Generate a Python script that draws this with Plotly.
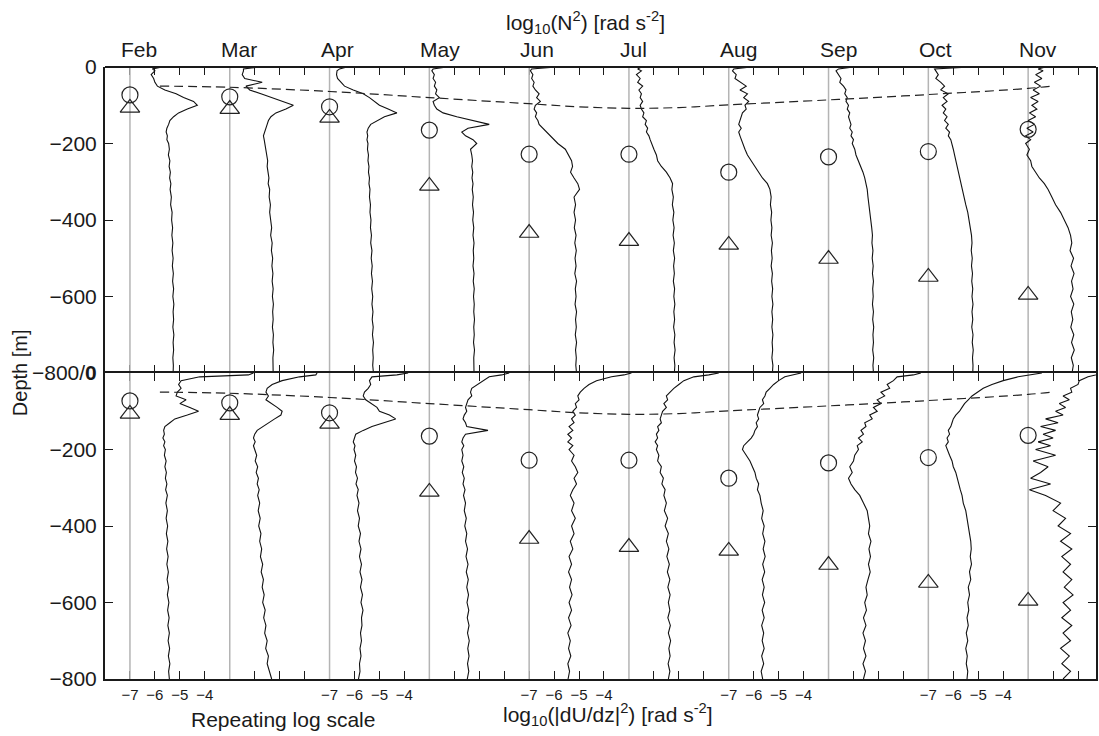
import plotly.graph_objects as go
from plotly.subplots import make_subplots

# ---------------- data ----------------
MONTHS = ["Feb", "Mar", "Apr", "May", "Jun", "Jul", "Aug", "Sep", "Oct", "Nov"]
LABELLED_MONTHS = ["Feb", "Apr", "Jun", "Aug", "Oct"]
LOG_TICKS = [-7, -6, -5, -4]
DECADES_PER_MONTH = 4          # width of one month's slot on the repeating log axis
REF_LOG = -7                   # log value drawn on each grey month line

DEPTH = [0, 5, 10,
         20, 30, 40, 50, 60, 70, 80, 90, 100, 110, 120, 130, 140, 150, 160, 170, 180, 190, 200,
         215, 230, 245, 260, 275, 290, 305, 320,
         340, 360, 380, 400, 420, 440, 460, 480, 500, 520, 540, 560, 580, 600, 620, 640, 660,
         680, 700, 720, 740, 760, 780, 800]

# log10(N^2) profiles
N2_FEB = [-5.70, -6.10, -6.00,
          -6.15, -6.05, -6.00, -5.90, -5.60, -5.15, -4.85, -4.45, -4.30, -4.70, -5.05, -5.25, -5.40, -5.45, -5.52, -5.55, -5.50, -5.52, -5.45,
          -5.42, -5.46, -5.40, -5.43, -5.38, -5.41, -5.36, -5.39,
          -5.34, -5.37, -5.31, -5.33, -5.29, -5.32, -5.28, -5.31, -5.27, -5.30, -5.26, -5.29, -5.25, -5.28, -5.24, -5.27, -5.25, -5.28, -5.24, -5.27, -5.25, -5.28, -5.26, -5.27]
N2_MAR = [-5.80, -6.45, -6.45,
          -6.50, -6.40, -5.70, -6.35, -6.20, -5.75, -5.30, -4.90, -4.45, -4.75, -5.15, -5.35, -5.45, -5.50, -5.55, -5.60, -5.65, -5.62, -5.60,
          -5.55, -5.52, -5.48, -5.50, -5.45, -5.43, -5.46, -5.40,
          -5.42, -5.37, -5.40, -5.35, -5.32, -5.36, -5.30, -5.33, -5.28, -5.31, -5.27, -5.30, -5.26, -5.29, -5.25, -5.28, -5.26, -5.29, -5.25, -5.27, -5.24, -5.27, -5.25, -5.26]
N2_APR = [-6.30, -6.60, -6.70,
          -6.72, -6.68, -6.55, -6.40, -6.05, -5.65, -5.40, -5.20, -5.00, -4.65, -4.30, -4.80, -5.10, -5.35, -5.45, -5.50, -5.47, -5.50, -5.46,
          -5.48, -5.44, -5.46, -5.42, -5.44, -5.40, -5.42, -5.38,
          -5.40, -5.36, -5.38, -5.34, -5.36, -5.32, -5.35, -5.30, -5.33, -5.29, -5.32, -5.28, -5.31, -5.27, -5.30, -5.26, -5.29, -5.25, -5.28, -5.24, -5.27, -5.25, -5.27, -5.24]
N2_MAY = [-6.30, -6.85, -6.90,
          -6.80, -6.85, -6.75, -6.80, -6.70, -6.75, -6.60, -6.85, -6.80, -6.70, -6.45, -5.90, -5.20, -4.60, -5.45, -5.70, -5.55, -5.25, -5.10,
          -5.35, -5.30, -5.27, -5.30, -5.26, -5.29, -5.25, -5.28,
          -5.24, -5.27, -5.23, -5.26, -5.22, -5.25, -5.21, -5.24, -5.22, -5.25, -5.21, -5.24, -5.20, -5.23, -5.20, -5.22, -5.19, -5.22, -5.20, -5.23, -5.19, -5.22, -5.20, -5.21]
N2_JUN = [-5.90, -6.90, -6.95,
          -6.85, -6.90, -6.80, -6.85, -6.75, -6.60, -6.70, -6.55, -6.75, -6.80, -6.70, -6.75, -6.65, -6.60, -6.45, -6.30, -6.15, -6.00, -5.85,
          -5.55, -5.42, -5.30, -5.26, -5.34, -5.20, -5.05, -4.98,
          -5.20, -5.14, -5.20, -5.14, -5.19, -5.12, -5.17, -5.11, -5.16, -5.12, -5.17, -5.10, -5.15, -5.12, -5.16, -5.10, -5.14, -5.11, -5.15, -5.10, -5.14, -5.11, -5.13, -5.10]
N2_JUL = [-6.50, -6.65, -6.50,
          -6.70, -6.55, -6.65, -6.45, -6.60, -6.50, -6.55, -6.45, -6.55, -6.50, -6.40, -6.45, -6.30, -6.35, -6.25, -6.30, -6.20, -6.15, -6.10,
          -6.00, -5.90, -5.85, -5.70, -5.50, -5.35, -5.25, -5.28,
          -5.22, -5.26, -5.20, -5.24, -5.19, -5.23, -5.18, -5.22, -5.17, -5.21, -5.18, -5.22, -5.17, -5.20, -5.16, -5.20, -5.17, -5.21, -5.16, -5.19, -5.15, -5.19, -5.16, -5.18]
N2_AUG = [-6.10, -6.80, -6.85,
          -6.70, -6.75, -6.50, -6.30, -6.55, -6.25, -6.40, -6.20, -6.35, -6.30, -6.45, -6.50, -6.55, -6.60, -6.50, -6.60, -6.55, -6.50, -6.45,
          -6.35, -6.25, -6.10, -5.95, -5.80, -5.65, -5.45, -5.35,
          -5.30, -5.33, -5.28, -5.31, -5.27, -5.30, -5.25, -5.29, -5.26, -5.30, -5.25, -5.28, -5.24, -5.27, -5.23, -5.27, -5.24, -5.27, -5.23, -5.26, -5.24, -5.27, -5.23, -5.25]
N2_SEP = [-6.00, -6.60, -6.70,
          -6.60, -6.50, -6.55, -6.40, -6.30, -6.35, -6.25, -6.30, -6.20, -6.25, -6.15, -6.20, -6.15, -6.10, -6.15, -6.05, -6.10, -6.00, -6.05,
          -5.95, -5.90, -5.80, -5.70, -5.62, -5.55, -5.50, -5.45,
          -5.42, -5.38, -5.33, -5.30, -5.27, -5.24, -5.26, -5.22, -5.25, -5.21, -5.24, -5.20, -5.23, -5.21, -5.24, -5.20, -5.23, -5.19, -5.22, -5.20, -5.23, -5.19, -5.22, -5.20]
N2_OCT = [-5.30, -6.75, -6.70,
          -6.60, -6.70, -6.50, -6.35, -6.50, -6.20, -6.40, -6.25, -6.45, -6.30, -6.40, -6.25, -6.35, -6.20, -6.30, -6.15, -6.20, -6.10, -6.05,
          -6.00, -5.95, -5.90, -5.85, -5.80, -5.75, -5.70, -5.65,
          -5.58, -5.50, -5.42, -5.36, -5.32, -5.27, -5.25, -5.28, -5.24, -5.27, -5.23, -5.26, -5.22, -5.25, -5.21, -5.25, -5.22, -5.26, -5.21, -5.24, -5.20, -5.23, -5.21, -5.22]
N2_NOV = [-6.30, -6.60, -6.40,
          -6.70, -6.45, -6.75, -6.50, -6.80, -6.55, -6.90, -6.60, -6.85, -6.65, -6.95, -6.70, -7.00, -6.75, -7.05, -6.80, -7.10, -6.90, -7.10,
          -6.95, -7.05, -6.90, -6.85, -6.70, -6.55, -6.35, -6.20,
          -6.05, -5.90, -5.70, -5.55, -5.40, -5.30, -5.25, -5.32, -5.18, -5.28, -5.16, -5.26, -5.20, -5.30, -5.17, -5.27, -5.21, -5.29, -5.17, -5.26, -5.15, -5.27, -5.19, -5.24]

# log10(|dU/dz|^2) profiles
SH_FEB = [-2.05, -2.25, -4.20,
          -4.95, -5.05, -4.95, -5.10, -5.15, -4.75, -5.00, -4.60, -4.25, -4.70, -5.20, -5.40, -5.60, -5.65, -5.62, -5.68, -5.60, -5.65, -5.58,
          -5.62, -5.55, -5.60, -5.54, -5.58, -5.52, -5.57, -5.50,
          -5.56, -5.50, -5.55, -5.49, -5.54, -5.48, -5.53, -5.47, -5.52, -5.46, -5.51, -5.45, -5.50, -5.44, -5.49, -5.43, -5.48, -5.42, -5.47, -5.41, -5.46, -5.40, -5.45, -5.42]
SH_MAR = [-3.50, -3.55, -4.20,
          -4.90, -5.30, -5.50, -5.55, -5.45, -5.55, -5.30, -5.10, -4.90, -4.95, -5.20, -5.45, -5.70, -5.90, -6.00, -6.05, -5.98, -6.05, -6.00,
          -5.92, -5.98, -5.88, -5.94, -5.85, -5.90, -5.82, -5.88,
          -5.80, -5.86, -5.78, -5.84, -5.75, -5.80, -5.72, -5.77, -5.68, -5.74, -5.65, -5.70, -5.62, -5.68, -5.58, -5.64, -5.55, -5.60, -5.50, -5.56, -5.45, -5.50, -5.40, -5.32]
SH_APR = [-3.85, -4.30, -5.30,
          -5.40, -5.35, -5.45, -5.60, -5.65, -5.55, -5.30, -5.10, -5.00, -4.60, -4.35, -4.85, -5.30, -5.65, -5.95, -6.00, -6.05, -5.98, -6.02,
          -5.95, -6.00, -5.92, -5.96, -5.88, -5.94, -5.85, -5.90,
          -5.82, -5.88, -5.80, -5.85, -5.76, -5.82, -5.74, -5.80, -5.72, -5.78, -5.70, -5.76, -5.68, -5.74, -5.66, -5.72, -5.70, -5.76, -5.72, -5.78, -5.74, -5.80, -5.78, -5.84]
SH_MAY = [-3.80, -4.10, -4.60,
          -4.85, -5.10, -5.30, -5.35, -5.30, -5.45, -5.50, -5.55, -5.50, -5.60, -5.65, -5.55, -5.50, -4.65, -5.55, -5.65, -5.70, -5.62, -5.70,
          -5.65, -5.70, -5.62, -5.68, -5.60, -5.65, -5.57, -5.63,
          -5.55, -5.60, -5.52, -5.58, -5.50, -5.55, -5.47, -5.53, -5.45, -5.52, -5.44, -5.50, -5.43, -5.49, -5.42, -5.48, -5.41, -5.47, -5.40, -5.46, -5.41, -5.47, -5.42, -5.48]
SH_JUN = [-2.90, -3.20, -3.70,
          -4.30, -4.60, -4.80, -4.95, -5.05, -5.00, -5.15, -5.10, -5.25, -5.15, -5.30, -5.20, -5.40, -5.25, -5.45, -5.30, -5.45, -5.25, -5.40,
          -5.20, -5.30, -5.15, -5.05, -5.20, -5.10, -5.25, -5.35,
          -5.20, -5.30, -5.15, -5.30, -5.20, -5.35, -5.25, -5.40, -5.30, -5.42, -5.30, -5.38, -5.28, -5.40, -5.30, -5.42, -5.32, -5.45, -5.35, -5.42, -5.33, -5.45, -5.38, -5.44]
SH_JUL = [-3.40, -3.80, -4.40,
          -4.80, -5.00, -5.20, -5.35, -5.50, -5.45, -5.60, -5.50, -5.65, -5.70, -5.75, -5.70, -5.85, -5.80, -5.90, -5.85, -5.95, -5.85, -5.90,
          -5.80, -5.85, -5.70, -5.75, -5.62, -5.68, -5.55, -5.60,
          -5.50, -5.58, -5.45, -5.55, -5.42, -5.50, -5.40, -5.48, -5.38, -5.46, -5.36, -5.44, -5.35, -5.42, -5.36, -5.44, -5.34, -5.42, -5.33, -5.40, -5.35, -5.43, -5.36, -5.42]
SH_AUG = [-4.10, -4.40, -4.75,
          -5.00, -5.20, -5.35, -5.50, -5.55, -5.65, -5.60, -5.75, -5.80, -5.85, -5.80, -5.90, -5.85, -5.95, -6.00, -6.10, -6.25, -6.40, -6.45,
          -6.30, -6.15, -6.05, -5.95, -5.90, -5.80, -5.85, -5.75,
          -5.70, -5.62, -5.68, -5.58, -5.64, -5.55, -5.62, -5.54, -5.64, -5.56, -5.66, -5.58, -5.65, -5.56, -5.66, -5.58, -5.68, -5.60, -5.66, -5.58, -5.68, -5.60, -5.70, -5.64]
SH_SEP = [-3.30, -3.60, -4.25,
          -4.40, -4.65, -4.55, -4.90, -4.75, -5.05, -4.90, -5.20, -5.05, -5.35, -5.25, -5.55, -5.50, -5.70, -5.60, -5.80, -5.65, -5.85, -5.80,
          -5.95, -6.00, -6.15, -6.05, -6.20, -6.10, -5.95, -5.75,
          -5.60, -5.45, -5.40, -5.35, -5.40, -5.30, -5.38, -5.32, -5.40, -5.33, -5.42, -5.50, -5.45, -5.55, -5.48, -5.60, -5.50, -5.62, -5.52, -5.60, -5.50, -5.62, -5.52, -5.60]
SH_OCT = [-2.45, -2.90, -3.40,
          -4.00, -4.45, -4.80, -5.05, -5.25, -5.40, -5.55, -5.65, -5.75, -5.90, -6.00, -6.05, -6.10, -6.20, -6.15, -6.25, -6.20, -6.30, -6.25,
          -6.15, -6.05, -6.00, -5.90, -5.85, -5.78, -5.72, -5.65,
          -5.60, -5.50, -5.45, -5.40, -5.35, -5.30, -5.28, -5.32, -5.27, -5.35, -5.30, -5.40, -5.35, -5.42, -5.38, -5.45, -5.40, -5.48, -5.42, -5.50, -5.44, -5.48, -5.42, -5.45]
SH_NOV = [-4.10, -4.30, -4.60,
          -4.95, -5.00, -5.30, -5.25, -5.60, -5.35, -5.75, -5.50, -5.90, -5.60, -6.30, -5.80, -6.50, -5.90, -6.40, -6.00, -6.60, -6.10, -6.70,
          -5.90, -6.80, -6.20, -6.50, -6.90, -6.10, -6.95, -6.30,
          -5.70, -6.00, -5.50, -5.80, -5.30, -5.70, -5.25, -5.65, -5.30, -5.60, -5.25, -5.55, -5.20, -5.60, -5.30, -5.65, -5.25, -5.60, -5.30, -5.70, -5.35, -5.65, -5.30, -5.60]

N2_PROFILES = [N2_FEB, N2_MAR, N2_APR, N2_MAY, N2_JUN, N2_JUL, N2_AUG, N2_SEP, N2_OCT, N2_NOV]
SH_PROFILES = [SH_FEB, SH_MAR, SH_APR, SH_MAY, SH_JUN, SH_JUL, SH_AUG, SH_SEP, SH_OCT, SH_NOV]

# depths marked with circles and triangles on each month line
CIRCLE_DEPTH = [-73, -78, -104, -165, -228, -228, -275, -235, -221, -163]
TRIANGLE_DEPTH = [-107, -110, -133, -311, -434, -455, -465, -502, -549, -596]

# dashed curve: time (in months after Feb) and depth
MLD_TIME = [0.3, 1, 2, 3, 4, 4.5, 5, 5.5, 6, 7, 8, 9, 9.23]
MLD_DEPTH = [-50, -53, -64, -80, -96, -104, -108, -106, -99, -86, -72, -56, -50]

for p in N2_PROFILES + SH_PROFILES:
    assert len(p) == len(DEPTH), len(p)

# ---------------- figure ----------------
FONT = "Liberation Sans, Arial, Helvetica, sans-serif"
INK = "#1a1a1a"


def slot_x(i, v):
    return DECADES_PER_MONTH * i + v


month_x = [slot_x(i, REF_LOG) for i in range(len(MONTHS))]

fig = make_subplots(rows=2, cols=1, shared_xaxes=True, vertical_spacing=0)

for row, profiles in ((1, N2_PROFILES), (2, SH_PROFILES)):
    for i, xm in enumerate(month_x):
        fig.add_trace(go.Scatter(x=[xm, xm], y=[0, -800], mode="lines",
                                 line=dict(color="#b4b4b4", width=1.5),
                                 hoverinfo="skip", showlegend=False), row=row, col=1)
    for i, prof in enumerate(profiles):
        fig.add_trace(go.Scatter(x=[slot_x(i, v) for v in prof], y=[-d for d in DEPTH],
                                 mode="lines", line=dict(color="#111111", width=1.1),
                                 name=MONTHS[i], showlegend=False), row=row, col=1)
    fig.add_trace(go.Scatter(x=[slot_x(t, REF_LOG) for t in MLD_TIME], y=MLD_DEPTH,
                             mode="lines", line=dict(color="#222222", width=1.2, dash="9px,5px", shape="spline"),
                             showlegend=False), row=row, col=1)
    fig.add_trace(go.Scatter(x=month_x, y=CIRCLE_DEPTH, mode="markers",
                             marker=dict(symbol="circle-open", size=16, color="#222222", line=dict(width=1.2)),
                             showlegend=False), row=row, col=1)
    fig.add_trace(go.Scatter(x=month_x, y=TRIANGLE_DEPTH, mode="markers",
                             marker=dict(symbol="triangle-up-open", size=17, color="#222222", line=dict(width=1.2)),
                             showlegend=False), row=row, col=1)

# repeating log-scale ticks
tickvals, ticktext = [], []
for i, m in enumerate(MONTHS):
    for v in LOG_TICKS:
        if v == REF_LOG and m not in LABELLED_MONTHS:
            continue
        tickvals.append(slot_x(i, v))
        ticktext.append(("\u2212" + str(abs(v))) if m in LABELLED_MONTHS else "")

XR = [-8, 31.72]
xcommon = dict(range=XR, tickvals=tickvals, ticktext=ticktext, ticks="inside", ticklen=8,
               tickwidth=1, tickcolor=INK, showline=True, linecolor=INK, linewidth=2,
               mirror="ticks", showgrid=False, zeroline=False, layer="below traces",
               tickfont=dict(family=FONT, size=15, color=INK), ticklabelstandoff=1)
fig.update_xaxes(**xcommon)
# top panel: ticks on both edges but no own frame lines (the shared middle line comes from the lower panel)
fig.update_xaxes(showticklabels=False, showline=False, row=1, col=1)

ycommon = dict(range=[-800, 0], ticks="inside", ticklen=8, tickwidth=1, tickcolor=INK,
               showline=True, linecolor=INK, linewidth=2, mirror="ticks", showgrid=False,
               zeroline=False, tickfont=dict(family=FONT, size=21, color=INK), ticklabelstandoff=2)
fig.update_yaxes(**ycommon)
fig.update_yaxes(tickvals=[0, -200, -400, -600, -800],
                 ticktext=["0", "\u2212200", "\u2212400", "\u2212600", "\u2212800/<b>0</b>"], row=1, col=1)
fig.update_yaxes(tickvals=[-200, -400, -600, -800],
                 ticktext=["\u2212200", "\u2212400", "\u2212600", "\u2212800"], row=2, col=1)

annotations = []
for m, xm in zip(MONTHS, month_x):
    annotations.append(dict(x=xm, y=1.0294, xref="x", yref="paper", text=m, showarrow=False,
                            xanchor="left", yanchor="middle", xshift=-11,
                            font=dict(family=FONT, size=21, color=INK)))
annotations += [
    dict(x=0.485, y=1.0735, xref="paper", yref="paper", showarrow=False,
         xanchor="center", yanchor="middle",
         text="log<sub>10</sub>(N<sup>2</sup>) [rad s<sup>-2</sup>]",
         font=dict(family=FONT, size=21, color=INK)),
    dict(x=0.508, y=-0.0588, xref="paper", yref="paper", showarrow=False,
         xanchor="center", yanchor="middle",
         text="log<sub>10</sub>(|dU/dz|<sup>2</sup>) [rad s<sup>-2</sup>]",
         font=dict(family=FONT, size=21, color=INK)),
    dict(x=0.180, y=-0.0654, xref="paper", yref="paper", showarrow=False,
         xanchor="center", yanchor="middle",
         text="Repeating log scale", font=dict(family=FONT, size=21, color=INK)),
    dict(x=-0.0856, y=0.5, xref="paper", yref="paper", showarrow=False, textangle=-90,
         xanchor="center", yanchor="middle",
         text="Depth [m]", font=dict(family=FONT, size=20, color=INK)),
]

# top frame edge of the upper panel
shapes = [dict(type="line", xref="paper", yref="paper", x0=0, x1=1, y0=1, y1=1,
               line=dict(color=INK, width=2), layer="above")]

fig.update_layout(width=1099, height=736, margin=dict(l=105, r=1, t=67, b=57),
                  paper_bgcolor="white", plot_bgcolor="white", showlegend=False,
                  annotations=annotations, shapes=shapes, font=dict(family=FONT, color=INK))

fig.write_html("out.html", config={"displayModeBar": False},
               post_script="document.body.style.margin='0px';")
